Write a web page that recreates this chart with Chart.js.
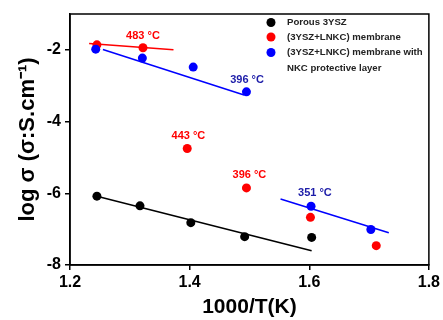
<!DOCTYPE html>
<html>
<head>
<meta charset="utf-8">
<script src="https://cdn.jsdelivr.net/npm/chart.js@4"></script>
<style>
  html, body { margin: 0; padding: 0; background: #fff; }
  #wrap { width: 443px; height: 320px; }
</style>
</head>
<body>
<div id="wrap"><canvas id="arrhenius" width="443" height="320"></canvas></div>
<script>
// --- dane ---
const xTicks = [1.2, 1.4, 1.6, 1.8];
const yTicks = [-8, -6, -4, -2];

const porousX = [1.245, 1.317, 1.402, 1.492, 1.604];
const porousY = [-6.08, -6.35, -6.82, -7.21, -7.23];

const membraneX = [1.245, 1.322, 1.396, 1.495, 1.602, 1.712];
const membraneY = [-1.86, -1.94, -4.75, -5.85, -6.67, -7.46];

const protectedX = [1.243, 1.321, 1.406, 1.495, 1.603, 1.703];
const protectedY = [-1.98, -2.23, -2.48, -3.17, -6.36, -7.01];

// linie dopasowania (końce odcinków)
const porousFitX = [1.245, 1.604];
const porousFitY = [-6.08, -7.60];
const membraneFitX = [1.232, 1.373];
const membraneFitY = [-1.82, -2.00];
const protectedFitX = [1.255, 1.491];
const protectedFitY = [-1.99, -3.26];
const protectedLowFitX = [1.552, 1.733];
const protectedLowFitY = [-6.16, -7.10];

// etykiety temperatur
const tempLabels = ['483 °C', '443 °C', '396 °C', '396 °C', '351 °C'];
const tempX = [1.322, 1.398, 1.500, 1.496, 1.6095];
const tempY = [-1.60, -4.41, -5.48, -2.83, -5.99];
const tempSeries = ['membrane', 'membrane', 'membrane', 'protected', 'protected'];

const legendNames = ['Porous 3YSZ', '(3YSZ+LNKC) membrane', '(3YSZ+LNKC) membrane with', 'NKC protective layer'];

const COLORS = { porous: '#000000', membrane: '#ff0000', protected: '#0000ff' };
const LABEL_COLORS = { membrane: '#ff0000', protected: '#1c1ca8' };

const toPoints = (xs, ys) => xs.map((x, i) => ({ x: x, y: ys[i] }));

const pointSet = (label, xs, ys, color, order) => ({
    type: 'scatter',
    label: label,
    data: toPoints(xs, ys),
    backgroundColor: color,
    borderColor: color,
    pointRadius: 4.5,
    pointHoverRadius: 4.5,
    borderWidth: 0,
    order: order
});

const fitSet = (xs, ys, color) => ({
    type: 'line',
    data: toPoints(xs, ys),
    borderColor: color,
    borderWidth: 1.5,
    pointRadius: 0,
    fill: false,
    tension: 0,
    order: 10
});

// ramka wokół obszaru wykresu + legenda + etykiety temperatur
const decorPlugin = {
    id: 'decor',
    afterDraw(chart) {
        const { ctx, chartArea: a, scales } = chart;
        ctx.save();
        ctx.strokeStyle = '#000';
        ctx.lineWidth = 1.5;
        ctx.strokeRect(a.left, a.top, a.right - a.left, a.bottom - a.top);

        // etykiety
        ctx.font = 'bold 11px "Liberation Sans", Arial, sans-serif';
        ctx.textAlign = 'center';
        ctx.textBaseline = 'middle';
        tempLabels.forEach((t, i) => {
            ctx.fillStyle = LABEL_COLORS[tempSeries[i]];
            ctx.fillText(t, scales.x.getPixelForValue(tempX[i]), scales.y.getPixelForValue(tempY[i]));
        });

        // legenda
        const lx = 271, tx = 287;
        const rows = [22.5, 37, 52.5, 68.5];
        const dots = [COLORS.porous, COLORS.membrane, COLORS.protected, null];
        ctx.font = 'bold 9.6px "Liberation Sans", Arial, sans-serif';
        ctx.textAlign = 'left';
        legendNames.forEach((name, i) => {
            if (dots[i]) {
                ctx.fillStyle = dots[i];
                ctx.beginPath();
                ctx.arc(lx, rows[i], 4.5, 0, Math.PI * 2);
                ctx.fill();
            }
            ctx.fillStyle = '#222';
            ctx.fillText(name, tx, rows[i]);
        });
        ctx.restore();
    }
};

const tickFont = { family: '"Liberation Sans", Arial, sans-serif', size: 16, weight: 'bold' };
const xTitleFont = { family: '"Liberation Sans", Arial, sans-serif', size: 21, weight: 'bold' };
const yTitleFont = { family: '"Liberation Sans", Arial, sans-serif', size: 22, weight: 'bold' };

new Chart(document.getElementById('arrhenius'), {
    data: {
        datasets: [
            fitSet(porousFitX, porousFitY, COLORS.porous),
            fitSet(membraneFitX, membraneFitY, COLORS.membrane),
            fitSet(protectedFitX, protectedFitY, COLORS.protected),
            fitSet(protectedLowFitX, protectedLowFitY, COLORS.protected),
            pointSet('Porous 3YSZ', porousX, porousY, COLORS.porous, 3),
            pointSet('(3YSZ+LNKC) membrane', membraneX, membraneY, COLORS.membrane, 2),
            pointSet('(3YSZ+LNKC) membrane with NKC protective layer', protectedX, protectedY, COLORS.protected, 1)
        ]
    },
    options: {
        responsive: false,
        animation: false,
        layout: { padding: { top: 14, right: 13, left: 0, bottom: 0 } },
        plugins: {
            legend: { display: false },
            tooltip: { enabled: false }
        },
        scales: {
            x: {
                type: 'linear',
                min: 1.2,
                max: 1.8,
                afterBuildTicks: s => { s.ticks = xTicks.map(v => ({ value: v })); },
                afterFit: s => { s.height = 55; },
                ticks: {
                    color: '#000',
                    font: tickFont,
                    padding: 3,
                    callback: v => v.toFixed(1)
                },
                grid: { drawOnChartArea: false, drawTicks: true, tickLength: 5, color: '#000', lineWidth: 1.5 },
                border: { display: true, color: '#000', width: 1.5 },
                title: { display: true, text: '1000/T(K)', color: '#000', font: xTitleFont, padding: { top: 0, bottom: 0 } }
            },
            y: {
                type: 'linear',
                min: -8,
                max: -1,
                afterBuildTicks: s => { s.ticks = yTicks.map(v => ({ value: v })); },
                afterFit: s => { s.width = 70; },
                ticks: {
                    color: '#000',
                    font: tickFont,
                    padding: 4,
                    callback: v => String(v)
                },
                grid: { drawOnChartArea: false, drawTicks: true, tickLength: 5, color: '#000', lineWidth: 1.5 },
                border: { display: true, color: '#000', width: 1.5 },
                title: { display: true, text: 'log σ (σ:S.cm⁻¹)', color: '#000', font: yTitleFont, padding: { top: 15, bottom: 0 } }
            }
        }
    },
    plugins: [decorPlugin]
});
</script>
</body>
</html>
